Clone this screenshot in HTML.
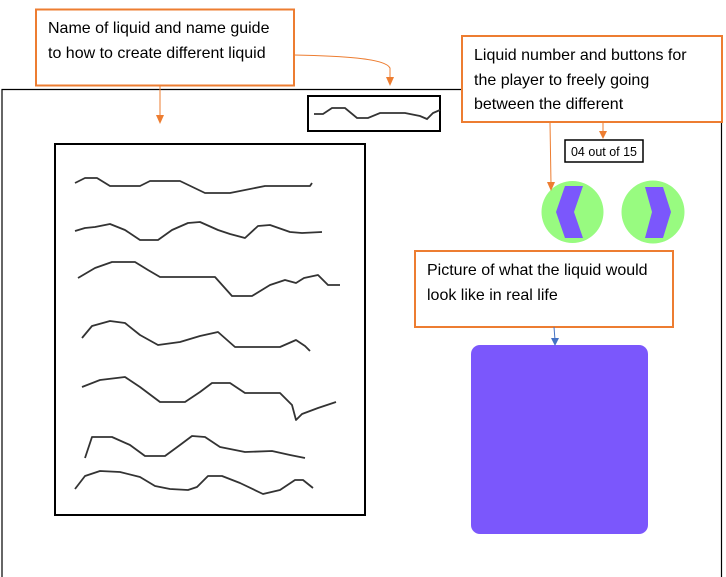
<!DOCTYPE html>
<html><head><style>
html,body{margin:0;padding:0;background:#fff;}
svg{display:block;}
text{font-family:"Liberation Sans",sans-serif;}
</style></head><body>
<svg width="726" height="577" viewBox="0 0 726 577" xmlns="http://www.w3.org/2000/svg">
<rect x="0" y="0" width="726" height="577" fill="#fff"/>
<path d="M2,577 L2,89.5 L721.5,89.5 L721.5,577" fill="none" stroke="#000" stroke-width="1.2"/>
<rect x="55" y="144" width="310" height="371" fill="none" stroke="#000" stroke-width="2"/>
<g fill="none" stroke="#333" stroke-width="1.8" stroke-linejoin="round">
<polyline points="75,183 85,178 97,178 110,186 140,186 150,181 180,181 205,193 230,193 265,186 310,186 312,183"/>
<polyline points="75,231 85,228 95,227 110,224 125,230 140,240 158,240 172,230 188,223 200,222 218,230 230,234 245,238 258,226 270,225 290,232 302,233 322,232"/>
<polyline points="78,278 95,268 112,262 135,262 148,270 160,277 215,277 232,296 252,296 270,285 285,280 296,283 304,278 318,275 328,285 340,285"/>
<polyline points="82,338 92,326 110,321 125,323 140,335 158,345 180,342 200,336 218,332 235,347 280,347 296,340 305,346 310,351"/>
<polyline points="82,387 100,380 125,377 140,387 160,402 185,402 200,392 212,383 230,383 245,393 280,393 292,405 296,420 302,414 318,408 336,402"/>
<polyline points="85,458 92,437 112,437 130,445 145,456 165,456 180,445 192,436 205,437 220,447 245,452 272,451 290,455 305,458"/>
<polyline points="75,489 85,476 100,471 120,472 140,477 155,486 170,489 188,490 197,487 208,476 222,476 240,483 263,494 280,490 295,480 303,480 313,488"/>
</g>
<rect x="308" y="96" width="132" height="35" fill="none" stroke="#000" stroke-width="2"/>
<polyline points="314,114 323,114 332,108 345,108 357,118 368,118 380,113 405,113 420,116 427,119 433,113 440,110" fill="none" stroke="#333" stroke-width="1.8"/>
<rect x="565" y="140" width="78" height="22" fill="#fff" stroke="#000" stroke-width="1.5"/>
<text x="604" y="156" font-size="12.5" text-anchor="middle" fill="#000">04 out of 15</text>
<circle cx="572.5" cy="212" r="31" fill="#98fb80"/>
<polygon points="565,186 583,186 574,212 583,238 565,238 556,212" fill="#7b57fc"/>
<circle cx="653" cy="212" r="31.5" fill="#98fb80"/>
<polygon points="645,187 663,187 671,212 663,238 645,238 652,212" fill="#7b57fc"/>
<rect x="471" y="345" width="177" height="189" rx="9" fill="#7b57fc"/>
<rect x="36" y="9.5" width="258" height="76" fill="#fff" stroke="#ed7d31" stroke-width="2"/>
<text x="48" y="33" font-size="16" fill="#000">Name of liquid and name guide</text>
<text x="48" y="58" font-size="16" fill="#000">to how to create different liquid</text>
<rect x="462" y="36" width="260" height="86" fill="#fff" stroke="#ed7d31" stroke-width="2"/>
<text x="474" y="60" font-size="16" fill="#000">Liquid number and buttons for</text>
<text x="474" y="85" font-size="16" fill="#000">the player to freely going</text>
<text x="474" y="109" font-size="16" fill="#000">between the different</text>
<rect x="415" y="251" width="258" height="76" fill="#fff" stroke="#ed7d31" stroke-width="2"/>
<text x="427" y="275" font-size="16" fill="#000">Picture of what the liquid would</text>
<text x="427" y="300" font-size="16" fill="#000">look like in real life</text>
<g stroke="#ed7d31" stroke-width="1" fill="none">
<path d="M160,86 L160,118"/>
<path d="M294,55 C340,56 385,58 390,68 L390,78"/>
<path d="M550,122 L551,184"/>
<path d="M603,122 L603,133"/>
</g>
<g fill="#ed7d31">
<polygon points="156,115 164,115 160,124"/>
<polygon points="386,77 394,77 390,86"/>
<polygon points="547,182 555,182 551,191"/>
<polygon points="599,131 607,131 603,139"/>
</g>
<path d="M554,327 L555,340" stroke="#4472c4" stroke-width="1"/>
<polygon points="551,338 559,338 555,346" fill="#4472c4"/>
</svg>
</body></html>
